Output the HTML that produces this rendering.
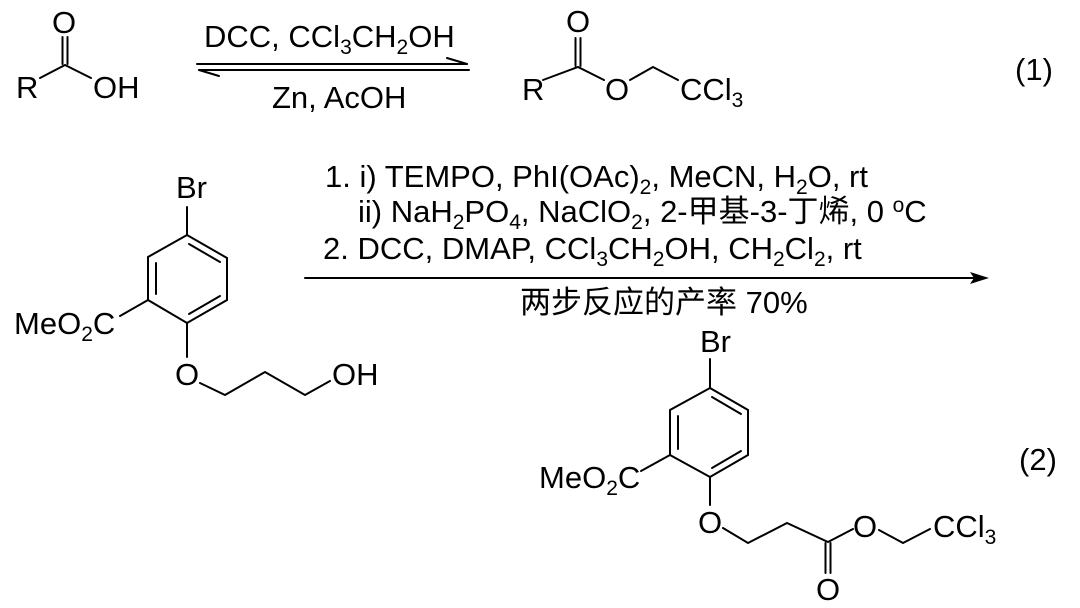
<!DOCTYPE html>
<html><head><meta charset="utf-8"><style>
html,body{margin:0;padding:0;background:#fff;}
svg{display:block;}
text{font-family:"Liberation Sans","Noto Sans CJK SC",sans-serif;font-size:31px;fill:#000;}
.s{font-size:21px;}
</style></head><body>
<svg width="1080" height="608" viewBox="0 0 1080 608" xmlns="http://www.w3.org/2000/svg">
<g stroke="#000" stroke-width="2" fill="none" stroke-linecap="round">
<line x1="62.5" y1="37" x2="62.5" y2="64"/><line x1="67.5" y1="37" x2="67.5" y2="64"/>
<polyline points="40,78 65,65 91,78"/>
<line x1="197" y1="64" x2="467" y2="64"/><line x1="467" y1="64" x2="447" y2="58"/>
<line x1="199" y1="70" x2="469" y2="70"/><line x1="199" y1="70" x2="219" y2="76"/>
<line x1="575.5" y1="38" x2="575.5" y2="66"/><line x1="580.5" y1="38" x2="580.5" y2="66"/>
<polyline points="543,80 578,67 604,80"/>
<polyline points="630,80 653,67 678,80"/>
<polygon points="187,235 227,258 227,300 187,323 148,300 148,257"/>
<line x1="156" y1="263" x2="156" y2="294"/>
<line x1="189" y1="244" x2="220" y2="262"/>
<line x1="220" y1="296" x2="189" y2="314"/>
<line x1="187" y1="207" x2="187" y2="235"/>
<line x1="148" y1="300" x2="120" y2="316"/>
<line x1="187" y1="323" x2="187" y2="357"/>
<polyline points="200,383 225,395 265,372 305,395 330,381"/>
<line x1="305" y1="278" x2="978" y2="278"/>
<polygon points="989,278 970,272 974,278 970,284" fill="#000" stroke="none"/>
<polygon points="710,388 748,410 748,455 710,477 670,455 670,410"/>
<line x1="678" y1="416" x2="678" y2="449"/>
<line x1="712" y1="397" x2="741" y2="414"/>
<line x1="741" y1="451" x2="712" y2="468"/>
<line x1="710" y1="359" x2="710" y2="388"/>
<line x1="670" y1="455" x2="641" y2="471"/>
<line x1="710" y1="477" x2="710" y2="505"/>
<polyline points="723,528 748,543 787,523 828,542 853,529"/>
<line x1="825.5" y1="543" x2="825.5" y2="573"/><line x1="830.5" y1="543" x2="830.5" y2="573"/>
<polyline points="879,530 903,543 930,529"/>
</g>
<text x="52" y="33">O</text>
<text x="16" y="98">R</text>
<text x="93" y="98">OH</text>
<text x="204" y="47">DCC, CCl<tspan class="s" dy="7">3</tspan><tspan dy="-7">CH</tspan><tspan class="s" dy="7">2</tspan><tspan dy="-7">OH</tspan></text>
<text x="272" y="108">Zn, AcOH</text>
<text x="566" y="32">O</text>
<text x="522" y="100">R</text>
<text x="605" y="100">O</text>
<text x="680" y="100">CCl<tspan class="s" dy="7">3</tspan></text>
<text x="1015" y="80">(1)</text>
<text x="176" y="198">Br</text>
<text x="14" y="334">MeO<tspan class="s" dy="7">2</tspan><tspan dy="-7">C</tspan></text>
<text x="175" y="385">O</text>
<text x="332" y="385">OH</text>
<text x="325" y="187">1. i) TEMPO, PhI(OAc)<tspan class="s" dy="7">2</tspan><tspan dy="-7">, MeCN, H</tspan><tspan class="s" dy="7">2</tspan><tspan dy="-7">O, rt</tspan></text>
<text x="358" y="222">ii) NaH<tspan class="s" dy="7">2</tspan><tspan dy="-7">PO</tspan><tspan class="s" dy="7">4</tspan><tspan dy="-7">, NaClO</tspan><tspan class="s" dy="7">2</tspan><tspan dy="-7">, 2-甲基-3-丁烯, 0 </tspan><tspan class="s" dy="-10">o</tspan><tspan dy="10">C</tspan></text>
<text x="323" y="259">2. DCC, DMAP, CCl<tspan class="s" dy="7">3</tspan><tspan dy="-7">CH</tspan><tspan class="s" dy="7">2</tspan><tspan dy="-7">OH, CH</tspan><tspan class="s" dy="7">2</tspan><tspan dy="-7">Cl</tspan><tspan class="s" dy="7">2</tspan><tspan dy="-7">, rt</tspan></text>
<text x="520" y="313">两步反应的产率 70%</text>
<text x="700" y="352">Br</text>
<text x="539" y="488">MeO<tspan class="s" dy="7">2</tspan><tspan dy="-7">C</tspan></text>
<text x="698" y="533">O</text>
<text x="853" y="537">O</text>
<text x="816" y="600">O</text>
<text x="933" y="537">CCl<tspan class="s" dy="7">3</tspan></text>
<text x="1019" y="470">(2)</text>
</svg>
</body></html>
